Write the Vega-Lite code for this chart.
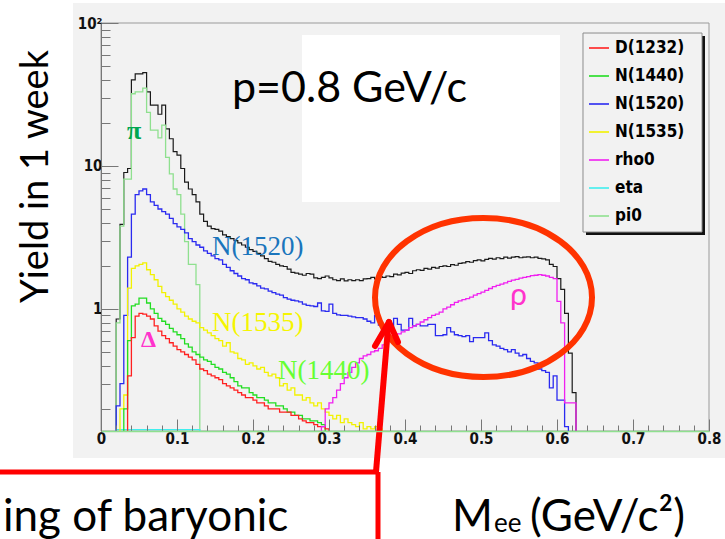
{
"$schema": "https://vega.github.io/schema/vega-lite/v6.json",
"autosize": {"type": "none"},
"width": 608, "height": 408,
"padding": {"left": 101, "top": 23, "right": 16, "bottom": 108},
"background": "white",
"config": {"view": {"stroke": null, "fill": "#f2f2f2"}, "font": "Liberation Sans", "axis": {"labelOverlap": false}},
"datasets": {
"one": [{}],
"h": [
{"s":"total","x":0.015,"v":0.01},{"s":"total","x":0.02,"v":0.85},{"s":"total","x":0.025,"v":3.9},{"s":"total","x":0.03,"v":9.0},{"s":"total","x":0.035,"v":9.6},{"s":"total","x":0.04,"v":40},{"s":"total","x":0.045,"v":44},{"s":"total","x":0.05,"v":44},{"s":"total","x":0.055,"v":45},{"s":"total","x":0.06,"v":33},{"s":"total","x":0.065,"v":26.6},{"s":"total","x":0.07,"v":26.6},{"s":"total","x":0.075,"v":23},{"s":"total","x":0.08,"v":26.6},{"s":"total","x":0.085,"v":18.2},{"s":"total","x":0.09,"v":15.5},{"s":"total","x":0.095,"v":12.6},{"s":"total","x":0.1,"v":11.9},{"s":"total","x":0.105,"v":9.6},{"s":"total","x":0.11,"v":7.7},{"s":"total","x":0.115,"v":6.9},{"s":"total","x":0.12,"v":6.3},{"s":"total","x":0.125,"v":5.6},{"s":"total","x":0.13,"v":4.6},{"s":"total","x":0.135,"v":4.1},{"s":"total","x":0.14,"v":3.8},{"s":"total","x":0.145,"v":3.65},{"s":"total","x":0.15,"v":3.6},{"s":"total","x":0.155,"v":3.5},{"s":"total","x":0.16,"v":3.3},{"s":"total","x":0.165,"v":3.2},{"s":"total","x":0.17,"v":3.1},{"s":"total","x":0.175,"v":3.0},{"s":"total","x":0.18,"v":2.9},{"s":"total","x":0.185,"v":2.8},{"s":"total","x":0.19,"v":2.7},{"s":"total","x":0.195,"v":2.6},{"s":"total","x":0.2,"v":2.53},{"s":"total","x":0.205,"v":2.45},{"s":"total","x":0.21,"v":2.35},{"s":"total","x":0.215,"v":2.25},{"s":"total","x":0.22,"v":2.15},{"s":"total","x":0.225,"v":2.12},{"s":"total","x":0.23,"v":2.05},{"s":"total","x":0.235,"v":2.0},{"s":"total","x":0.24,"v":1.98},{"s":"total","x":0.245,"v":1.9},{"s":"total","x":0.25,"v":1.8},{"s":"total","x":0.255,"v":1.78},{"s":"total","x":0.26,"v":1.75},{"s":"total","x":0.265,"v":1.72},{"s":"total","x":0.27,"v":1.77},{"s":"total","x":0.275,"v":1.75},{"s":"total","x":0.28,"v":1.65},{"s":"total","x":0.285,"v":1.63},{"s":"total","x":0.29,"v":1.66},{"s":"total","x":0.295,"v":1.7},{"s":"total","x":0.3,"v":1.65},{"s":"total","x":0.305,"v":1.6},{"s":"total","x":0.31,"v":1.58},{"s":"total","x":0.315,"v":1.62},{"s":"total","x":0.32,"v":1.57},{"s":"total","x":0.325,"v":1.6},{"s":"total","x":0.33,"v":1.58},{"s":"total","x":0.335,"v":1.6},{"s":"total","x":0.34,"v":1.58},{"s":"total","x":0.345,"v":1.62},{"s":"total","x":0.35,"v":1.63},{"s":"total","x":0.355,"v":1.66},{"s":"total","x":0.36,"v":1.62},{"s":"total","x":0.365,"v":1.68},{"s":"total","x":0.37,"v":1.66},{"s":"total","x":0.375,"v":1.7},{"s":"total","x":0.38,"v":1.68},{"s":"total","x":0.385,"v":1.75},{"s":"total","x":0.39,"v":1.73},{"s":"total","x":0.395,"v":1.78},{"s":"total","x":0.4,"v":1.8},{"s":"total","x":0.405,"v":1.77},{"s":"total","x":0.41,"v":1.85},{"s":"total","x":0.415,"v":1.88},{"s":"total","x":0.42,"v":1.86},{"s":"total","x":0.425,"v":1.92},{"s":"total","x":0.43,"v":1.9},{"s":"total","x":0.435,"v":1.95},{"s":"total","x":0.44,"v":1.93},{"s":"total","x":0.445,"v":1.98},{"s":"total","x":0.45,"v":2.0},{"s":"total","x":0.455,"v":1.98},{"s":"total","x":0.46,"v":2.04},{"s":"total","x":0.465,"v":2.02},{"s":"total","x":0.47,"v":2.08},{"s":"total","x":0.475,"v":2.1},{"s":"total","x":0.48,"v":2.14},{"s":"total","x":0.485,"v":2.12},{"s":"total","x":0.49,"v":2.18},{"s":"total","x":0.495,"v":2.2},{"s":"total","x":0.5,"v":2.17},{"s":"total","x":0.505,"v":2.22},{"s":"total","x":0.51,"v":2.26},{"s":"total","x":0.515,"v":2.23},{"s":"total","x":0.52,"v":2.28},{"s":"total","x":0.525,"v":2.25},{"s":"total","x":0.53,"v":2.3},{"s":"total","x":0.535,"v":2.27},{"s":"total","x":0.54,"v":2.3},{"s":"total","x":0.545,"v":2.32},{"s":"total","x":0.55,"v":2.28},{"s":"total","x":0.555,"v":2.3},{"s":"total","x":0.56,"v":2.31},{"s":"total","x":0.565,"v":2.28},{"s":"total","x":0.57,"v":2.3},{"s":"total","x":0.575,"v":2.26},{"s":"total","x":0.58,"v":2.24},{"s":"total","x":0.585,"v":2.2},{"s":"total","x":0.59,"v":2.05},{"s":"total","x":0.595,"v":1.98},{"s":"total","x":0.6,"v":1.63},{"s":"total","x":0.605,"v":1.37},{"s":"total","x":0.61,"v":0.93},{"s":"total","x":0.615,"v":0.49},{"s":"total","x":0.62,"v":0.26},{"s":"total","x":0.625,"v":0.01},

{"s":"pi0","x":0.015,"v":0.01},{"s":"pi0","x":0.02,"v":0.8},{"s":"pi0","x":0.025,"v":3.8},{"s":"pi0","x":0.03,"v":8.1},{"s":"pi0","x":0.035,"v":8.1},{"s":"pi0","x":0.04,"v":32},{"s":"pi0","x":0.045,"v":33},{"s":"pi0","x":0.05,"v":33},{"s":"pi0","x":0.055,"v":35},{"s":"pi0","x":0.06,"v":23.7},{"s":"pi0","x":0.065,"v":17.8},{"s":"pi0","x":0.07,"v":17.8},{"s":"pi0","x":0.075,"v":15.7},{"s":"pi0","x":0.08,"v":19.3},{"s":"pi0","x":0.085,"v":11.5},{"s":"pi0","x":0.09,"v":8.8},{"s":"pi0","x":0.095,"v":6.9},{"s":"pi0","x":0.1,"v":6.3},{"s":"pi0","x":0.105,"v":4.6},{"s":"pi0","x":0.11,"v":2.96},{"s":"pi0","x":0.115,"v":2.05},{"s":"pi0","x":0.12,"v":2.05},{"s":"pi0","x":0.125,"v":1.48},{"s":"pi0","x":0.13,"v":0.01},

{"s":"eta","x":0.015,"v":0.01},{"s":"eta","x":0.02,"v":0.143},{"s":"eta","x":0.13,"v":0.01},

{"s":"N(1520)","x":0.015,"v":0.01},{"s":"N(1520)","x":0.02,"v":0.21},{"s":"N(1520)","x":0.025,"v":0.3},{"s":"N(1520)","x":0.03,"v":0.9},{"s":"N(1520)","x":0.035,"v":2.3},{"s":"N(1520)","x":0.04,"v":4.6},{"s":"N(1520)","x":0.045,"v":6.3},{"s":"N(1520)","x":0.05,"v":6.7},{"s":"N(1520)","x":0.055,"v":6.9},{"s":"N(1520)","x":0.06,"v":6.3},{"s":"N(1520)","x":0.065,"v":5.6},{"s":"N(1520)","x":0.07,"v":5.3},{"s":"N(1520)","x":0.075,"v":5.0},{"s":"N(1520)","x":0.08,"v":4.8},{"s":"N(1520)","x":0.085,"v":4.6},{"s":"N(1520)","x":0.09,"v":4.3},{"s":"N(1520)","x":0.095,"v":3.95},{"s":"N(1520)","x":0.1,"v":3.75},{"s":"N(1520)","x":0.105,"v":3.6},{"s":"N(1520)","x":0.11,"v":3.4},{"s":"N(1520)","x":0.115,"v":3.1},{"s":"N(1520)","x":0.12,"v":2.96},{"s":"N(1520)","x":0.125,"v":2.8},{"s":"N(1520)","x":0.13,"v":2.7},{"s":"N(1520)","x":0.135,"v":2.55},{"s":"N(1520)","x":0.14,"v":2.45},{"s":"N(1520)","x":0.145,"v":2.35},{"s":"N(1520)","x":0.15,"v":2.25},{"s":"N(1520)","x":0.155,"v":2.2},{"s":"N(1520)","x":0.16,"v":2.05},{"s":"N(1520)","x":0.165,"v":1.95},{"s":"N(1520)","x":0.17,"v":1.85},{"s":"N(1520)","x":0.175,"v":1.77},{"s":"N(1520)","x":0.18,"v":1.7},{"s":"N(1520)","x":0.185,"v":1.63},{"s":"N(1520)","x":0.19,"v":1.6},{"s":"N(1520)","x":0.195,"v":1.52},{"s":"N(1520)","x":0.2,"v":1.5},{"s":"N(1520)","x":0.205,"v":1.45},{"s":"N(1520)","x":0.21,"v":1.4},{"s":"N(1520)","x":0.215,"v":1.38},{"s":"N(1520)","x":0.22,"v":1.33},{"s":"N(1520)","x":0.225,"v":1.3},{"s":"N(1520)","x":0.23,"v":1.27},{"s":"N(1520)","x":0.235,"v":1.25},{"s":"N(1520)","x":0.24,"v":1.2},{"s":"N(1520)","x":0.245,"v":1.17},{"s":"N(1520)","x":0.25,"v":1.15},{"s":"N(1520)","x":0.255,"v":1.14},{"s":"N(1520)","x":0.26,"v":1.12},{"s":"N(1520)","x":0.265,"v":1.08},{"s":"N(1520)","x":0.27,"v":1.06},{"s":"N(1520)","x":0.275,"v":1.05},{"s":"N(1520)","x":0.28,"v":1.04},{"s":"N(1520)","x":0.285,"v":1.1},{"s":"N(1520)","x":0.29,"v":0.97},{"s":"N(1520)","x":0.295,"v":0.96},{"s":"N(1520)","x":0.3,"v":1.08},{"s":"N(1520)","x":0.305,"v":0.93},{"s":"N(1520)","x":0.31,"v":0.91},{"s":"N(1520)","x":0.315,"v":0.9},{"s":"N(1520)","x":0.32,"v":0.9},{"s":"N(1520)","x":0.325,"v":0.89},{"s":"N(1520)","x":0.33,"v":0.88},{"s":"N(1520)","x":0.335,"v":0.87},{"s":"N(1520)","x":0.34,"v":0.87},{"s":"N(1520)","x":0.345,"v":0.85},{"s":"N(1520)","x":0.35,"v":0.82},{"s":"N(1520)","x":0.355,"v":0.8},{"s":"N(1520)","x":0.36,"v":0.9},{"s":"N(1520)","x":0.365,"v":0.77},{"s":"N(1520)","x":0.37,"v":0.76},{"s":"N(1520)","x":0.375,"v":0.73},{"s":"N(1520)","x":0.38,"v":0.73},{"s":"N(1520)","x":0.385,"v":0.86},{"s":"N(1520)","x":0.39,"v":0.78},{"s":"N(1520)","x":0.395,"v":0.71},{"s":"N(1520)","x":0.4,"v":0.71},{"s":"N(1520)","x":0.405,"v":0.86},{"s":"N(1520)","x":0.41,"v":0.76},{"s":"N(1520)","x":0.415,"v":0.78},{"s":"N(1520)","x":0.42,"v":0.76},{"s":"N(1520)","x":0.425,"v":0.76},{"s":"N(1520)","x":0.43,"v":0.78},{"s":"N(1520)","x":0.435,"v":0.78},{"s":"N(1520)","x":0.44,"v":0.65},{"s":"N(1520)","x":0.445,"v":0.65},{"s":"N(1520)","x":0.45,"v":0.66},{"s":"N(1520)","x":0.455,"v":0.74},{"s":"N(1520)","x":0.46,"v":0.69},{"s":"N(1520)","x":0.465,"v":0.66},{"s":"N(1520)","x":0.47,"v":0.65},{"s":"N(1520)","x":0.475,"v":0.64},{"s":"N(1520)","x":0.48,"v":0.65},{"s":"N(1520)","x":0.485,"v":0.59},{"s":"N(1520)","x":0.49,"v":0.63},{"s":"N(1520)","x":0.495,"v":0.63},{"s":"N(1520)","x":0.5,"v":0.63},{"s":"N(1520)","x":0.505,"v":0.68},{"s":"N(1520)","x":0.51,"v":0.6},{"s":"N(1520)","x":0.515,"v":0.56},{"s":"N(1520)","x":0.52,"v":0.55},{"s":"N(1520)","x":0.525,"v":0.53},{"s":"N(1520)","x":0.53,"v":0.52},{"s":"N(1520)","x":0.535,"v":0.5},{"s":"N(1520)","x":0.54,"v":0.52},{"s":"N(1520)","x":0.545,"v":0.49},{"s":"N(1520)","x":0.55,"v":0.47},{"s":"N(1520)","x":0.555,"v":0.48},{"s":"N(1520)","x":0.56,"v":0.45},{"s":"N(1520)","x":0.565,"v":0.43},{"s":"N(1520)","x":0.57,"v":0.42},{"s":"N(1520)","x":0.575,"v":0.38},{"s":"N(1520)","x":0.58,"v":0.37},{"s":"N(1520)","x":0.585,"v":0.36},{"s":"N(1520)","x":0.59,"v":0.28},{"s":"N(1520)","x":0.595,"v":0.34},{"s":"N(1520)","x":0.6,"v":0.23},{"s":"N(1520)","x":0.605,"v":0.23},{"s":"N(1520)","x":0.61,"v":0.15},{"s":"N(1520)","x":0.615,"v":0.01},

{"s":"N(1535)","x":0.02,"v":0.01},{"s":"N(1535)","x":0.025,"v":0.2},{"s":"N(1535)","x":0.03,"v":0.25},{"s":"N(1535)","x":0.035,"v":1.4},{"s":"N(1535)","x":0.04,"v":1.92},{"s":"N(1535)","x":0.045,"v":2.0},{"s":"N(1535)","x":0.05,"v":2.05},{"s":"N(1535)","x":0.055,"v":2.1},{"s":"N(1535)","x":0.06,"v":1.88},{"s":"N(1535)","x":0.065,"v":1.74},{"s":"N(1535)","x":0.07,"v":1.6},{"s":"N(1535)","x":0.075,"v":1.44},{"s":"N(1535)","x":0.08,"v":1.3},{"s":"N(1535)","x":0.085,"v":1.22},{"s":"N(1535)","x":0.09,"v":1.15},{"s":"N(1535)","x":0.095,"v":1.08},{"s":"N(1535)","x":0.1,"v":1.0},{"s":"N(1535)","x":0.105,"v":0.95},{"s":"N(1535)","x":0.11,"v":0.89},{"s":"N(1535)","x":0.115,"v":0.85},{"s":"N(1535)","x":0.12,"v":0.82},{"s":"N(1535)","x":0.125,"v":0.8},{"s":"N(1535)","x":0.13,"v":0.74},{"s":"N(1535)","x":0.135,"v":0.71},{"s":"N(1535)","x":0.14,"v":0.68},{"s":"N(1535)","x":0.145,"v":0.65},{"s":"N(1535)","x":0.15,"v":0.62},{"s":"N(1535)","x":0.155,"v":0.6},{"s":"N(1535)","x":0.16,"v":0.55},{"s":"N(1535)","x":0.165,"v":0.58},{"s":"N(1535)","x":0.17,"v":0.5},{"s":"N(1535)","x":0.175,"v":0.49},{"s":"N(1535)","x":0.18,"v":0.45},{"s":"N(1535)","x":0.185,"v":0.44},{"s":"N(1535)","x":0.19,"v":0.41},{"s":"N(1535)","x":0.195,"v":0.42},{"s":"N(1535)","x":0.2,"v":0.4},{"s":"N(1535)","x":0.205,"v":0.38},{"s":"N(1535)","x":0.21,"v":0.39},{"s":"N(1535)","x":0.215,"v":0.36},{"s":"N(1535)","x":0.22,"v":0.34},{"s":"N(1535)","x":0.225,"v":0.35},{"s":"N(1535)","x":0.23,"v":0.33},{"s":"N(1535)","x":0.235,"v":0.29},{"s":"N(1535)","x":0.24,"v":0.3},{"s":"N(1535)","x":0.245,"v":0.27},{"s":"N(1535)","x":0.25,"v":0.28},{"s":"N(1535)","x":0.255,"v":0.25},{"s":"N(1535)","x":0.26,"v":0.25},{"s":"N(1535)","x":0.265,"v":0.23},{"s":"N(1535)","x":0.27,"v":0.24},{"s":"N(1535)","x":0.275,"v":0.22},{"s":"N(1535)","x":0.28,"v":0.21},{"s":"N(1535)","x":0.285,"v":0.22},{"s":"N(1535)","x":0.29,"v":0.2},{"s":"N(1535)","x":0.295,"v":0.19},{"s":"N(1535)","x":0.3,"v":0.18},{"s":"N(1535)","x":0.305,"v":0.17},{"s":"N(1535)","x":0.31,"v":0.18},{"s":"N(1535)","x":0.315,"v":0.16},{"s":"N(1535)","x":0.32,"v":0.17},{"s":"N(1535)","x":0.325,"v":0.16},{"s":"N(1535)","x":0.33,"v":0.155},{"s":"N(1535)","x":0.335,"v":0.15},{"s":"N(1535)","x":0.34,"v":0.16},{"s":"N(1535)","x":0.345,"v":0.145},{"s":"N(1535)","x":0.35,"v":0.15},{"s":"N(1535)","x":0.355,"v":0.145},{"s":"N(1535)","x":0.36,"v":0.15},{"s":"N(1535)","x":0.365,"v":0.145},{"s":"N(1535)","x":0.37,"v":0.01},

{"s":"N(1440)","x":0.025,"v":0.01},{"s":"N(1440)","x":0.03,"v":0.2},{"s":"N(1440)","x":0.035,"v":0.6},{"s":"N(1440)","x":0.04,"v":1.05},{"s":"N(1440)","x":0.045,"v":1.08},{"s":"N(1440)","x":0.05,"v":1.19},{"s":"N(1440)","x":0.055,"v":1.19},{"s":"N(1440)","x":0.06,"v":1.1},{"s":"N(1440)","x":0.065,"v":1.0},{"s":"N(1440)","x":0.07,"v":0.93},{"s":"N(1440)","x":0.075,"v":0.86},{"s":"N(1440)","x":0.08,"v":0.82},{"s":"N(1440)","x":0.085,"v":0.78},{"s":"N(1440)","x":0.09,"v":0.73},{"s":"N(1440)","x":0.095,"v":0.69},{"s":"N(1440)","x":0.1,"v":0.66},{"s":"N(1440)","x":0.105,"v":0.62},{"s":"N(1440)","x":0.11,"v":0.57},{"s":"N(1440)","x":0.115,"v":0.54},{"s":"N(1440)","x":0.12,"v":0.5},{"s":"N(1440)","x":0.125,"v":0.48},{"s":"N(1440)","x":0.13,"v":0.46},{"s":"N(1440)","x":0.135,"v":0.44},{"s":"N(1440)","x":0.14,"v":0.43},{"s":"N(1440)","x":0.145,"v":0.41},{"s":"N(1440)","x":0.15,"v":0.39},{"s":"N(1440)","x":0.155,"v":0.38},{"s":"N(1440)","x":0.16,"v":0.36},{"s":"N(1440)","x":0.165,"v":0.35},{"s":"N(1440)","x":0.17,"v":0.33},{"s":"N(1440)","x":0.175,"v":0.31},{"s":"N(1440)","x":0.18,"v":0.29},{"s":"N(1440)","x":0.185,"v":0.28},{"s":"N(1440)","x":0.19,"v":0.28},{"s":"N(1440)","x":0.195,"v":0.26},{"s":"N(1440)","x":0.2,"v":0.25},{"s":"N(1440)","x":0.205,"v":0.24},{"s":"N(1440)","x":0.21,"v":0.24},{"s":"N(1440)","x":0.215,"v":0.23},{"s":"N(1440)","x":0.22,"v":0.22},{"s":"N(1440)","x":0.225,"v":0.22},{"s":"N(1440)","x":0.23,"v":0.21},{"s":"N(1440)","x":0.235,"v":0.21},{"s":"N(1440)","x":0.24,"v":0.2},{"s":"N(1440)","x":0.245,"v":0.19},{"s":"N(1440)","x":0.25,"v":0.19},{"s":"N(1440)","x":0.255,"v":0.18},{"s":"N(1440)","x":0.26,"v":0.18},{"s":"N(1440)","x":0.265,"v":0.17},{"s":"N(1440)","x":0.27,"v":0.17},{"s":"N(1440)","x":0.275,"v":0.165},{"s":"N(1440)","x":0.28,"v":0.165},{"s":"N(1440)","x":0.285,"v":0.16},{"s":"N(1440)","x":0.29,"v":0.155},{"s":"N(1440)","x":0.295,"v":0.01},

{"s":"D(1232)","x":0.03,"v":0.01},{"s":"D(1232)","x":0.035,"v":0.34},{"s":"D(1232)","x":0.04,"v":0.63},{"s":"D(1232)","x":0.045,"v":0.89},{"s":"D(1232)","x":0.05,"v":0.93},{"s":"D(1232)","x":0.055,"v":0.92},{"s":"D(1232)","x":0.06,"v":0.89},{"s":"D(1232)","x":0.065,"v":0.85},{"s":"D(1232)","x":0.07,"v":0.76},{"s":"D(1232)","x":0.075,"v":0.7},{"s":"D(1232)","x":0.08,"v":0.65},{"s":"D(1232)","x":0.085,"v":0.62},{"s":"D(1232)","x":0.09,"v":0.58},{"s":"D(1232)","x":0.095,"v":0.55},{"s":"D(1232)","x":0.1,"v":0.52},{"s":"D(1232)","x":0.105,"v":0.5},{"s":"D(1232)","x":0.11,"v":0.48},{"s":"D(1232)","x":0.115,"v":0.46},{"s":"D(1232)","x":0.12,"v":0.44},{"s":"D(1232)","x":0.125,"v":0.41},{"s":"D(1232)","x":0.13,"v":0.38},{"s":"D(1232)","x":0.135,"v":0.37},{"s":"D(1232)","x":0.14,"v":0.35},{"s":"D(1232)","x":0.145,"v":0.34},{"s":"D(1232)","x":0.15,"v":0.33},{"s":"D(1232)","x":0.155,"v":0.32},{"s":"D(1232)","x":0.16,"v":0.3},{"s":"D(1232)","x":0.165,"v":0.29},{"s":"D(1232)","x":0.17,"v":0.28},{"s":"D(1232)","x":0.175,"v":0.27},{"s":"D(1232)","x":0.18,"v":0.26},{"s":"D(1232)","x":0.185,"v":0.25},{"s":"D(1232)","x":0.19,"v":0.24},{"s":"D(1232)","x":0.195,"v":0.24},{"s":"D(1232)","x":0.2,"v":0.23},{"s":"D(1232)","x":0.205,"v":0.22},{"s":"D(1232)","x":0.21,"v":0.22},{"s":"D(1232)","x":0.215,"v":0.21},{"s":"D(1232)","x":0.22,"v":0.2},{"s":"D(1232)","x":0.225,"v":0.2},{"s":"D(1232)","x":0.23,"v":0.2},{"s":"D(1232)","x":0.235,"v":0.19},{"s":"D(1232)","x":0.24,"v":0.19},{"s":"D(1232)","x":0.245,"v":0.19},{"s":"D(1232)","x":0.25,"v":0.18},{"s":"D(1232)","x":0.255,"v":0.18},{"s":"D(1232)","x":0.26,"v":0.17},{"s":"D(1232)","x":0.265,"v":0.165},{"s":"D(1232)","x":0.27,"v":0.16},{"s":"D(1232)","x":0.275,"v":0.16},{"s":"D(1232)","x":0.28,"v":0.155},{"s":"D(1232)","x":0.285,"v":0.15},{"s":"D(1232)","x":0.29,"v":0.15},{"s":"D(1232)","x":0.295,"v":0.145},{"s":"D(1232)","x":0.3,"v":0.01},

{"s":"rho0","x":0.285,"v":0.01},{"s":"rho0","x":0.29,"v":0.15},{"s":"rho0","x":0.295,"v":0.2},{"s":"rho0","x":0.3,"v":0.22},{"s":"rho0","x":0.305,"v":0.24},{"s":"rho0","x":0.31,"v":0.27},{"s":"rho0","x":0.315,"v":0.3},{"s":"rho0","x":0.32,"v":0.33},{"s":"rho0","x":0.325,"v":0.36},{"s":"rho0","x":0.33,"v":0.39},{"s":"rho0","x":0.335,"v":0.42},{"s":"rho0","x":0.34,"v":0.45},{"s":"rho0","x":0.345,"v":0.47},{"s":"rho0","x":0.35,"v":0.48},{"s":"rho0","x":0.355,"v":0.5},{"s":"rho0","x":0.36,"v":0.51},{"s":"rho0","x":0.365,"v":0.53},{"s":"rho0","x":0.37,"v":0.56},{"s":"rho0","x":0.375,"v":0.59},{"s":"rho0","x":0.38,"v":0.61},{"s":"rho0","x":0.385,"v":0.64},{"s":"rho0","x":0.39,"v":0.67},{"s":"rho0","x":0.395,"v":0.69},{"s":"rho0","x":0.4,"v":0.71},{"s":"rho0","x":0.405,"v":0.74},{"s":"rho0","x":0.41,"v":0.76},{"s":"rho0","x":0.415,"v":0.78},{"s":"rho0","x":0.42,"v":0.81},{"s":"rho0","x":0.425,"v":0.84},{"s":"rho0","x":0.43,"v":0.87},{"s":"rho0","x":0.435,"v":0.9},{"s":"rho0","x":0.44,"v":0.92},{"s":"rho0","x":0.445,"v":0.95},{"s":"rho0","x":0.45,"v":1.0},{"s":"rho0","x":0.455,"v":1.03},{"s":"rho0","x":0.46,"v":1.07},{"s":"rho0","x":0.465,"v":1.11},{"s":"rho0","x":0.47,"v":1.14},{"s":"rho0","x":0.475,"v":1.16},{"s":"rho0","x":0.48,"v":1.18},{"s":"rho0","x":0.485,"v":1.21},{"s":"rho0","x":0.49,"v":1.25},{"s":"rho0","x":0.495,"v":1.28},{"s":"rho0","x":0.5,"v":1.31},{"s":"rho0","x":0.505,"v":1.35},{"s":"rho0","x":0.51,"v":1.39},{"s":"rho0","x":0.515,"v":1.43},{"s":"rho0","x":0.52,"v":1.46},{"s":"rho0","x":0.525,"v":1.49},{"s":"rho0","x":0.53,"v":1.52},{"s":"rho0","x":0.535,"v":1.56},{"s":"rho0","x":0.54,"v":1.59},{"s":"rho0","x":0.545,"v":1.61},{"s":"rho0","x":0.55,"v":1.64},{"s":"rho0","x":0.555,"v":1.66},{"s":"rho0","x":0.56,"v":1.68},{"s":"rho0","x":0.565,"v":1.71},{"s":"rho0","x":0.57,"v":1.72},{"s":"rho0","x":0.575,"v":1.74},{"s":"rho0","x":0.58,"v":1.72},{"s":"rho0","x":0.585,"v":1.7},{"s":"rho0","x":0.59,"v":1.66},{"s":"rho0","x":0.595,"v":1.63},{"s":"rho0","x":0.6,"v":1.13},{"s":"rho0","x":0.605,"v":0.8},{"s":"rho0","x":0.61,"v":0.22},{"s":"rho0","x":0.615,"v":0.22},{"s":"rho0","x":0.62,"v":0.22},{"s":"rho0","x":0.625,"v":0.01}
]
},
"layer": [
{"data": {"name": "one"}, "mark": {"type": "rect", "fill": "#f2f2f2", "clip": false},
 "encoding": {"x": {"datum": -0.03684}, "x2": {"datum": 0.82105}, "y": {"datum": 138.0}, "y2": {"datum": 0.09063}}},
{"data": {"name": "one"}, "mark": {"type": "rect", "fill": null, "stroke": "#9a9a9a", "strokeWidth": 1, "clip": false},
 "encoding": {"x": {"datum": 0}, "x2": {"datum": 0.8}, "y": {"datum": 100}, "y2": {"datum": 0.14}}},
{"data": {"name": "one"}, "mark": {"type": "rect", "fill": "white"},
 "encoding": {"x": {"datum": 0.26447}, "x2": {"datum": 0.60395}, "y": {"datum": 82.4}, "y2": {"datum": 5.597}}},
{"data": {"name": "one"}, "mark": {"type": "rect", "fill": "#111"},
 "encoding": {"x": {"datum": 0.63816}, "x2": {"datum": 0.79474}, "y": {"datum": 81.1}, "y2": {"datum": 3.289}}},
{"data": {"name": "one"}, "mark": {"type": "rect", "fill": "#f2f2f2", "stroke": "#8c8c8c", "strokeWidth": 1},
 "encoding": {"x": {"datum": 0.63421}, "x2": {"datum": 0.79079}, "y": {"datum": 85.1}, "y2": {"datum": 3.451}}},
{"data": {"name": "h"},
 "transform": [{"filter": "datum.s === 'total'"}],
 "mark": {"type": "line", "interpolate": "step-after", "color": "#1a1a1a", "strokeWidth": 1.2, "clip": true},
 "encoding": {
  "x": {"field": "x", "type": "quantitative",
   "scale": {"domain": [0, 0.8], "nice": false, "zero": false},
   "axis": {"title": null, "grid": false, "zindex": 1, "tickCount": 200,
    "values": [0,0.02,0.04,0.06,0.08,0.1,0.12,0.14,0.16,0.18,0.2,0.22,0.24,0.26,0.28,0.3,0.32,0.34,0.36,0.38,0.4,0.42,0.44,0.46,0.48,0.5,0.52,0.54,0.56,0.58,0.6,0.62,0.64,0.66,0.68,0.7,0.72,0.74,0.76,0.78,0.8],
    "labelExpr": "datum.value === 0 ? '0' : (abs(datum.value*10 - round(datum.value*10)) < 0.001 ? format(datum.value, '.1f') : '')",
    "tickSize": {"condition": {"test": "abs(datum.value*10 - round(datum.value*10)) < 0.001", "value": -12}, "value": -6},
    "tickColor": "#777", "domainColor": "#8fe08f", "domainWidth": 1.5,
    "labelFont": "Liberation Sans Narrow, DejaVu Sans Condensed, Liberation Sans", "labelFontWeight": "bold", "labelFontSize": 15, "labelColor": "#111",
    "labelPadding": 12, "labelOverlap": false, "labelSeparation": 0, "labelFlush": false, "labelBound": false}},
  "y": {"field": "v", "type": "quantitative",
   "scale": {"type": "log", "domain": [0.14, 100], "nice": false, "zero": false},
   "axis": {"title": "Yield in 1 week", "grid": false, "zindex": 1, "tickCount": 200,
    "values": [0.2,0.3,0.4,0.5,0.6,0.7,0.8,0.9,1,2,3,4,5,6,7,8,9,10,20,30,40,50,60,70,80,90,100],
    "labelExpr": "datum.value == 100 ? '10²' : (datum.value == 10 ? '10' : (datum.value == 1 ? '1' : ''))",
    "tickSize": {"condition": {"test": "datum.value == 1 || datum.value == 10 || datum.value == 100", "value": -17}, "value": -9},
    "tickColor": "#777", "domainColor": "#777",
    "labelFont": "Liberation Sans Narrow, DejaVu Sans Condensed, Liberation Sans", "labelFontWeight": "bold", "labelFontSize": 15, "labelColor": "#111",
    "labelPadding": 16, "labelOverlap": false, "labelFlush": false, "labelBound": false,
    "titleFont": "Lato", "titleFontSize": 38, "titleFontWeight": "normal", "titleColor": "#000",
    "titleAngle": -90, "titleX": -54, "titleY": 153, "titleAlign": "center", "titleBaseline": "alphabetic"}}
 }},
{"data": {"name": "h"},
 "transform": [{"filter": "datum.s !== 'total'"}],
 "mark": {"type": "line", "interpolate": "step-after", "strokeWidth": 1.3, "clip": true},
 "encoding": {
  "x": {"field": "x", "type": "quantitative"},
  "y": {"field": "v", "type": "quantitative"},
  "color": {"field": "s", "type": "nominal",
   "scale": {"domain": ["D(1232)", "N(1440)", "N(1520)", "N(1535)", "rho0", "eta", "pi0"],
             "range": ["#ff2020", "#22dd22", "#2a2af0", "#f2f200", "#f020f0", "#40eeee", "#8fe08f"]},
   "legend": {"orient": "none", "legendX": 481, "legendY": 8, "title": null, "zindex": 2,
     "symbolType": "stroke", "symbolSize": 400, "symbolStrokeWidth": 1.6,
     "labelFont": "Liberation Sans Narrow, DejaVu Sans Condensed, Liberation Sans", "labelFontWeight": "bold", "labelFontSize": 17, "labelColor": "#000",
     "labelOffset": 5, "padding": 6, "rowPadding": 9, "fillColor": null, "strokeColor": null}}
 }},
{"data": {"name": "one"}, "mark": {"type": "text", "text": "π", "font": "Liberation Serif", "fontWeight": "bold", "fontSize": 26, "color": "#00a651", "align": "left", "baseline": "alphabetic"},
 "encoding": {"x": {"datum": 0.03421}, "y": {"datum": 15.44}}},
{"data": {"name": "one"}, "mark": {"type": "text", "text": "N(1520)", "font": "Liberation Serif", "fontSize": 27, "color": "#1a75bc", "align": "left", "baseline": "alphabetic"},
 "encoding": {"x": {"datum": 0.14605}, "y": {"datum": 2.383}}},
{"data": {"name": "one"}, "mark": {"type": "text", "text": "N(1535)", "font": "Liberation Serif", "fontSize": 27, "color": "#f5f500", "align": "left", "baseline": "alphabetic"},
 "encoding": {"x": {"datum": 0.14605}, "y": {"datum": 0.701}}},
{"data": {"name": "one"}, "mark": {"type": "text", "text": "Δ", "font": "Liberation Serif", "fontWeight": "bold", "fontSize": 24, "color": "#ff33cc", "align": "left", "baseline": "alphabetic"},
 "encoding": {"x": {"datum": 0.05263}, "y": {"datum": 0.5416}}},
{"data": {"name": "one"}, "mark": {"type": "text", "text": "N(1440)", "font": "Liberation Serif", "fontSize": 27, "color": "#66ff33", "align": "left", "baseline": "alphabetic"},
 "encoding": {"x": {"datum": 0.23289}, "y": {"datum": 0.3234}}},
{"data": {"name": "one"}, "mark": {"type": "text", "text": "ρ", "font": "Lato", "fontSize": 30, "color": "#ff33cc", "align": "left", "baseline": "alphabetic"},
 "encoding": {"x": {"datum": 0.53816}, "y": {"datum": 1.065}}},
{"data": {"name": "one"}, "mark": {"type": "text", "text": "p=0.8 GeV/c", "font": "Lato", "fontSize": 43, "color": "#000", "align": "left", "baseline": "alphabetic", "clip": false},
 "encoding": {"x": {"datum": 0.17237}, "y": {"datum": 28.02}}},
{"data": {"name": "one"}, "mark": {"type": "point", "shape": "M 1 0 C 1 0.4047 0.5523 0.7327 0 0.7327 C -0.5523 0.7327 -1 0.4047 -1 0 C -1 -0.4047 -0.5523 -0.7327 0 -0.7327 C 0.5523 -0.7327 1 -0.4047 1 0 Z", "size": 47089, "filled": false, "stroke": "#ff3300", "strokeWidth": 6, "opacity": 1},
 "encoding": {"x": {"datum": 0.50329}, "y": {"datum": 1.202}}},
{"data": {"name": "one"}, "mark": {"type": "rule", "color": "#ff0000", "strokeWidth": 5, "clip": false},
 "encoding": {"x": {"datum": -0.13289}, "x2": {"datum": 0.36447}, "y": {"datum": 0.07234}, "y2": {"datum": 0.07234}}},
{"data": {"name": "one"}, "mark": {"type": "rule", "color": "#ff0000", "strokeWidth": 5, "clip": false},
 "encoding": {"x": {"datum": 0.36447}, "x2": {"datum": 0.36447}, "y": {"datum": 0.07234}, "y2": {"datum": 0.02232}}},
{"data": {"name": "one"}, "mark": {"type": "rule", "color": "#ff0000", "strokeWidth": 6, "clip": false},
 "encoding": {"x": {"datum": 0.36184}, "x2": {"datum": 0.37763}, "y": {"datum": 0.07234}, "y2": {"datum": 0.7354}}},
{"data": {"name": "one"}, "mark": {"type": "rule", "color": "#ff0000", "strokeWidth": 6, "strokeCap": "round", "clip": false},
 "encoding": {"x": {"datum": 0.36053}, "x2": {"datum": 0.37895}, "y": {"datum": 0.5504}, "y2": {"datum": 0.8101}}},
{"data": {"name": "one"}, "mark": {"type": "rule", "color": "#ff0000", "strokeWidth": 6, "strokeCap": "round", "clip": false},
 "encoding": {"x": {"datum": 0.39079}, "x2": {"datum": 0.37895}, "y": {"datum": 0.5869}, "y2": {"datum": 0.8101}}},
{"data": {"name": "one"}, "mark": {"type": "text", "text": "M", "font": "Lato", "fontSize": 44, "color": "#000", "align": "left", "baseline": "alphabetic", "clip": false},
 "encoding": {"x": {"datum": 0.46184}, "y": {"datum": 0.02797}}},
{"data": {"name": "one"}, "mark": {"type": "text", "text": "ee", "font": "Lato", "fontSize": 26, "color": "#000", "align": "left", "baseline": "alphabetic", "clip": false},
 "encoding": {"x": {"datum": 0.5171}, "y": {"datum": 0.02752}}},
{"data": {"name": "one"}, "mark": {"type": "text", "text": "(GeV/c²)", "font": "Lato", "fontSize": 44, "color": "#000", "align": "left", "baseline": "alphabetic", "clip": false},
 "encoding": {"x": {"datum": 0.5645}, "y": {"datum": 0.02797}}},
{"data": {"name": "one"}, "mark": {"type": "text", "text": "ing of baryonic", "font": "Lato", "fontSize": 44, "color": "#000", "align": "left", "baseline": "alphabetic", "clip": false},
 "encoding": {"x": {"datum": -0.12895}, "y": {"datum": 0.02797}}}
]
}
